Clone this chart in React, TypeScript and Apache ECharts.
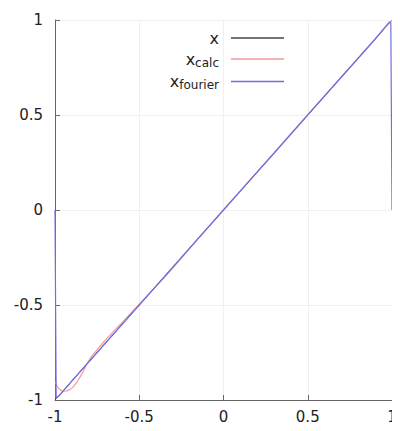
import React, { useEffect, useRef } from "react";
import * as echarts from "echarts";

const xTicks = [-1, -0.5, 0, 0.5, 1];
const seriesNames = ["x", "xcalc", "xfourier"];

const xLine: [number, number][] = [
  [-1, -1],
  [1, 1],
];

const xCalc: [number, number][] = [
  [-1, -0.9], [-0.99, -0.922], [-0.98, -0.938], [-0.965, -0.949], [-0.95, -0.953],
  [-0.93, -0.952], [-0.91, -0.944], [-0.89, -0.93], [-0.87, -0.905], [-0.85, -0.877],
  [-0.83, -0.845], [-0.81, -0.808], [-0.79, -0.78], [-0.77, -0.757], [-0.75, -0.735],
  [-0.72, -0.704], [-0.69, -0.674], [-0.65, -0.636], [-0.6, -0.59], [-0.55, -0.543],
  [-0.5, -0.496], [-0.45, -0.449], [-0.4, -0.402], [-0.35, -0.354], [-0.3, -0.304],
  [-0.25, -0.253], [-0.2, -0.201], [-0.1, -0.099], [0, 0.002], [0.1, 0.101],
  [0.2, 0.199], [0.3, 0.298], [0.4, 0.4], [0.5, 0.502], [0.6, 0.602],
  [0.7, 0.7], [0.8, 0.798], [0.9, 0.899], [0.95, 0.951], [1, 1.0],
];

const xFourier: [number, number][] = [
  [-1, 0], [-0.993, -0.985], [-0.98, -0.982], [-0.9, -0.9], [-0.5, -0.5],
  [0, 0], [0.5, 0.5], [0.9, 0.9], [0.985, 0.99], [0.993, 0.985], [1, 0],
];

const colors = ["#444444", "#f29a9a", "#6f6fe0"];

export default function App() {
  const ref = useRef<HTMLDivElement>(null);
  useEffect(() => {
    const chart = echarts.init(ref.current!, null, { renderer: "svg" });
    const axisCommon = {
      type: "value" as const,
      min: -1,
      max: 1,
      interval: 0.5,
      axisLine: { show: true, onZero: false, lineStyle: { color: "#666666", width: 1 } },
      axisTick: { show: true, inside: true, length: 5, lineStyle: { color: "#666666" } },
      splitLine: { show: true, lineStyle: { color: "#f0f0f0", width: 1 } },
      axisLabel: {
        color: "#222222",
        fontSize: 15,
        fontFamily: "DejaVu Sans",
        formatter: (v: number) => (xTicks.includes(v) ? String(v) : ""),
      },
    };
    chart.setOption({
      animation: false,
      backgroundColor: "#ffffff",
      grid: { left: 55, right: 8, top: 20, bottom: 31, containLabel: false },
      xAxis: { ...axisCommon, axisLabel: { ...axisCommon.axisLabel, margin: 9 } },
      yAxis: { ...axisCommon, axisLabel: { ...axisCommon.axisLabel, margin: 12 } },
      legend: {
        orient: "vertical",
        right: 111,
        top: 25,
        align: "right",
        icon: "rect",
        itemWidth: 53,
        itemHeight: 1.5,
        itemGap: 5,
        data: seriesNames,
        textStyle: {
          fontSize: 16,
          fontFamily: "DejaVu Sans",
          color: "#222222",
          padding: [0, 7, 0, 0],
          rich: {
            sub: { fontSize: 12, fontFamily: "DejaVu Sans", color: "#222222", padding: [7, 0, 0, 0] },
          },
        },
        formatter: (name: string) =>
          name === "x" ? "x" : name === "xcalc" ? "x{sub|calc}" : "x{sub|fourier}",
      },
      series: [
        { name: "x", type: "line", data: xLine, symbol: "none", lineStyle: { color: colors[0], width: 1 }, itemStyle: { color: colors[0] } },
        { name: "xcalc", type: "line", data: xCalc, symbol: "none", lineStyle: { color: colors[1], width: 1.2 }, itemStyle: { color: colors[1] } },
        { name: "xfourier", type: "line", data: xFourier, symbol: "none", lineStyle: { color: colors[2], width: 1.2 }, itemStyle: { color: colors[2] } },
      ],
    });
    return () => chart.dispose();
  }, []);
  return <div ref={ref} style={{ width: 400, height: 431, margin: -8 }} />;
}
